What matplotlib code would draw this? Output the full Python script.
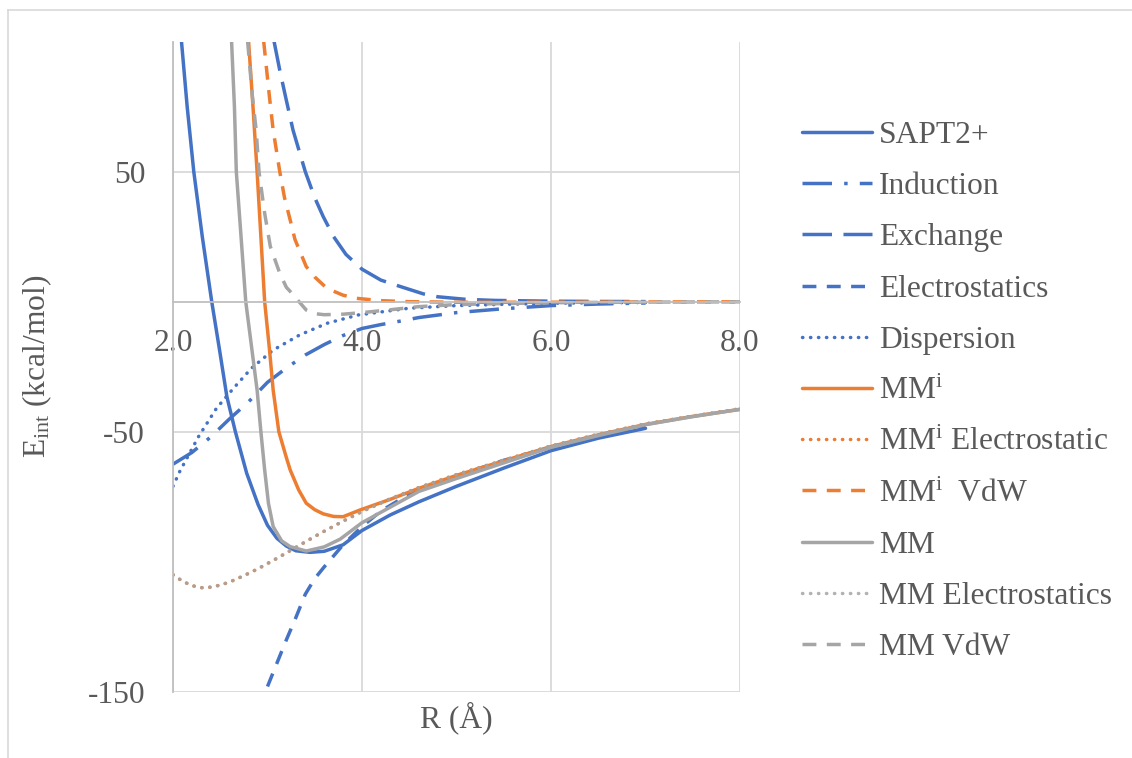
import matplotlib
matplotlib.use("Agg")
import matplotlib.pyplot as plt
from matplotlib.lines import Line2D

plt.rcParams['font.family'] = ['Liberation Serif', 'DejaVu Serif']
plt.rcParams['mathtext.fontset'] = 'custom'
plt.rcParams['mathtext.rm'] = 'Liberation Serif'
plt.rcParams['mathtext.it'] = 'Liberation Serif:italic'
plt.rcParams['axes.unicode_minus'] = False

# --- data (R in Angstrom, E in kcal/mol) ---
sapt_r = [2.09, 2.15, 2.22, 2.31, 2.41, 2.49, 2.57, 2.66, 2.78, 2.9, 3.0, 3.1, 3.2, 3.3, 3.45,
          3.6, 3.8, 4.0, 4.3, 4.6, 5.0, 5.5, 6.0, 6.5, 7.0]
sapt_e = [100, 75, 50, 25, 0, -18, -36.5, -50, -66, -78, -86, -91, -94, -95.8, -96.4,
          -96, -93.5, -88, -82, -77, -71, -64, -57.3, -52.5, -48.7]

ind_r = [2.0, 2.2, 2.4, 2.6, 2.8, 3.0, 3.2, 3.4, 3.6, 3.8, 4.0, 4.2, 4.4, 4.6, 5.0, 5.5, 6.0, 6.5, 7.0]
ind_e = [-62.5, -58, -52, -45, -38.5, -31, -25.5, -20.5, -16.5, -13, -10.3, -8.8, -7.5, -6.1,
         -4.2, -2.7, -1.5, -0.9, -0.5]

exch_r = [3.07, 3.13, 3.19, 3.27, 3.4, 3.5, 3.59, 3.7, 3.83, 4.0, 4.2, 4.4, 4.65, 4.8, 5.1, 5.4,
          6.0, 6.5, 7.0]
exch_e = [100, 89, 79, 66, 50, 40, 32.7, 25, 18.2, 12.5, 8.3, 5.9, 3.0, 1.9, 0.9, 0.5, 0.2, 0.1, 0.05]

elst_r = [3.0, 3.1, 3.2, 3.3, 3.4, 3.5, 3.6, 3.8, 4.0, 4.2, 4.5, 5.0, 5.5, 6.0, 6.5, 7.0]
elst_e = [-148, -139, -130, -121.5, -112.5, -106.5, -102, -93.5, -86.5, -80.5, -74, -67, -61,
          -56, -51.5, -48]

disp_r = [2.0, 2.07, 2.27, 2.46, 2.64, 2.83, 3.06, 3.34, 3.63, 3.96, 4.5, 5.0, 5.5, 6.0, 6.5, 7.0]
disp_e = [-71, -65.4, -51.9, -41, -33.3, -25.6, -18.6, -12.8, -8.3, -5.1, -2.5, -1.5, -1.0,
          -0.6, -0.4, -0.3]

mmi_r = [2.80, 2.85, 2.89, 2.93, 2.97, 3.02, 3.06, 3.12, 3.2, 3.24, 3.33, 3.41, 3.5, 3.59, 3.7,
         3.8, 3.98, 4.3, 4.6, 5.0, 5.5, 6.0, 6.5, 7.0, 7.5, 8.0]
mmi_e = [100, 73, 50, 25, 0, -18, -34, -50, -60, -64.7, -72.4, -77.5, -80, -81.6, -82.6,
         -82.7, -80.1, -76, -71.8, -66.8, -61.2, -55.7, -51.2, -47.2, -44.1, -41.4]

mme_r = [2.0, 2.1, 2.2, 2.3, 2.4, 2.5, 2.6, 2.7, 2.8, 2.9, 3.0, 3.1, 3.2, 3.3, 3.4, 3.5, 3.6,
         3.8, 4.0, 4.3, 4.6, 5.0, 5.5, 6.0, 6.5, 7.0, 7.5, 8.0]
mme_e = [-105, -107.5, -109.2, -110, -109.8, -109, -107.8, -106.2, -104.5, -102.7, -100.7,
         -98.7, -96.6, -94.5, -92.4, -90.3, -88.3, -84.4, -80.7, -75.8, -71.5, -66.5, -61,
         -55.5, -51, -47, -44, -41.2]

mmiv_r = [2.96, 3.02, 3.06, 3.13, 3.18, 3.25, 3.29, 3.41, 3.5, 3.63, 3.8, 3.94, 4.2, 4.5, 5.0,
          6.0, 7.0, 8.0]
mmiv_e = [100, 79, 66, 50, 40, 30, 24, 13.5, 9.5, 5.1, 2.5, 1.3, 0.4, 0.0, -0.2, -0.2, -0.1, -0.05]

mm_r = [2.62, 2.65, 2.67, 2.72, 2.77, 2.83, 2.89, 2.93, 2.97, 3.01, 3.06, 3.15, 3.24, 3.41, 3.6,
        3.77, 4.0, 4.3, 4.6, 5.0, 5.5, 6.0, 6.5, 7.0, 7.5, 8.0]
mm_e = [100, 75, 50, 25, 0, -17, -34, -50, -64.7, -77.5, -86.5, -92, -94.2, -95.9, -94.3,
        -91.3, -85, -79, -73, -68, -62, -56, -51.5, -47.3, -44.2, -41.4]

mmv_r = [2.79, 2.84, 2.88, 2.91, 2.97, 3.03, 3.13, 3.2, 3.27, 3.31, 3.41, 3.5, 3.6, 3.8, 4.0,
         4.3, 4.6, 5.0, 5.5, 6.0, 6.5, 7.0, 7.5, 8.0]
mmv_e = [100, 79, 66, 50, 34, 21.2, 10.9, 5.5, 2.8, 1.0, -3.2, -4.6, -5.0, -4.8, -4.2,
         -3.1, -1.9, -1.1, -0.7, -0.4, -0.25, -0.15, -0.1, -0.05]

blue = '#4472C4'
orange = '#ED7D31'
gray = '#A5A5A5'
txt = '#595959'
fs = 22.7
lw = 2.5

long_dash = (0, (8.5, 3.3))
dash = (0, (4, 3))
dash_dot = (0, (8.5, 3.5, 1, 3.5))
dot = (0, (0.1, 2.2))

fig = plt.figure(figsize=(11.32, 7.58), dpi=100)
ax = fig.add_axes([173 / 1132, 1 - 691.7 / 758, 567 / 1132, 650 / 758])

series = [
    (sapt_r, sapt_e, 'SAPT2+', blue, '-', 1.0),
    (ind_r, ind_e, 'Induction', blue, dash_dot, 1.0),
    (exch_r, exch_e, 'Exchange', blue, long_dash, 1.0),
    (elst_r, elst_e, 'Electrostatics', blue, dash, 1.0),
    (disp_r, disp_e, 'Dispersion', blue, dot, 1.0),
    (mmi_r, mmi_e, r'MM$^{\mathrm{i}}$', orange, '-', 1.0),
    (mme_r, mme_e, r'MM$^{\mathrm{i}}$ Electrostatic', orange, dot, 1.0),
    (mmiv_r, mmiv_e, r'MM$^{\mathrm{i}}$  VdW', orange, dash, 1.0),
    (mm_r, mm_e, 'MM', gray, '-', 1.0),
    (mme_r, mme_e, 'MM Electrostatics', gray, dot, 0.85),
    (mmv_r, mmv_e, 'MM VdW', gray, dash, 1.0),
]

for r, e, name, c, ls, a in series:
    cap = 'round' if ls == dot else 'butt'
    ax.plot(r, e, color=c, linestyle=ls, lw=lw, label=name, alpha=a,
            dash_capstyle=cap, solid_capstyle='round', solid_joinstyle='round')

ax.set_xlim(2, 8)
ax.set_ylim(-150, 100)
ax.set_xticks([2, 4, 6, 8])
ax.set_xticklabels(['2.0', '4.0', '6.0', '8.0'])
ax.set_yticks([-150, -50, 50])
ax.grid(True, color='#D9D9D9', lw=1.3)
ax.set_axisbelow(True)
for s in ['top', 'right']:
    ax.spines[s].set_visible(False)
ax.spines['bottom'].set_position(('data', 0))
ax.spines['bottom'].set_color('#BFBFBF')
ax.spines['left'].set_color('#BFBFBF')
ax.spines['bottom'].set_linewidth(1.3)
ax.spines['left'].set_linewidth(1.3)
ax.tick_params(axis='both', length=0, labelsize=fs, labelcolor=txt)
ax.tick_params(axis='x', pad=20)
ax.tick_params(axis='y', pad=20)

ax.set_xlabel('R (Å)', fontsize=fs, color=txt)
ax.xaxis.set_label_coords(0.5, -0.015)
ax.set_ylabel(r'E$_{\mathrm{int}}$ (kcal/mol)', fontsize=fs, color=txt)
ax.yaxis.set_label_coords(-0.21, 0.5)

leg = ax.legend(loc='center left', bbox_to_anchor=(802 / 1132, 1 - 391.5 / 758),
                bbox_transform=fig.transFigure, frameon=False, fontsize=fs,
                handlelength=2.22, handletextpad=0.22, labelspacing=0.70,
                borderpad=0, borderaxespad=0)
for t in leg.get_texts():
    t.set_color(txt)

# outer chart border
fig.add_artist(Line2D([8 / 1132, 1], [1 - 10 / 758, 1 - 10 / 758], color='#D9D9D9', lw=1.2))
fig.add_artist(Line2D([8 / 1132, 8 / 1132], [0, 1 - 10 / 758], color='#D9D9D9', lw=1.2))

fig.savefig('out.png', dpi=100)
